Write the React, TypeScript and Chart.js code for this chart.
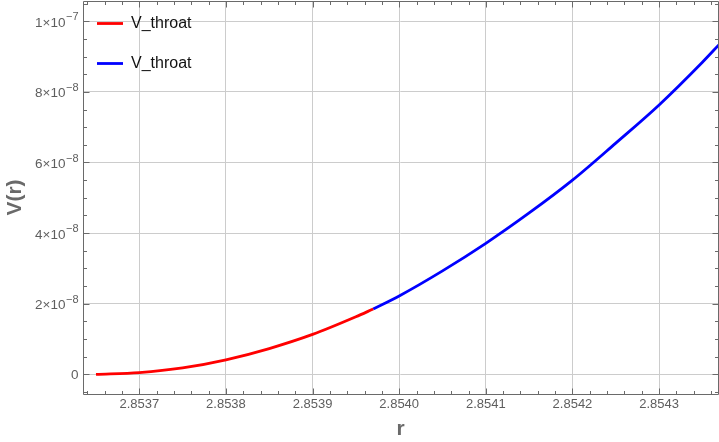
import React, { useEffect, useRef } from 'react';
import { Chart, registerables } from 'chart.js';

Chart.register(...registerables);

// ---- data (V values in units of 1e-8) ----
const redR = [2.85365, 2.8537, 2.85375, 2.8538, 2.85385, 2.8539, 2.85395, 2.85397];
const redV = [0.0, 0.05, 0.18, 0.41, 0.73, 1.13, 1.63, 1.85];
const blueR = [2.85397, 2.854, 2.85405, 2.8541, 2.85415, 2.8542, 2.85425, 2.8543, 2.85435, 2.85437];
const blueV = [1.85, 2.22, 2.93, 3.71, 4.57, 5.5, 6.55, 7.63, 8.84, 9.36];
const seriesLabels = ['V_throat', 'V_throat'];
const seriesColors = ['#ff0000', '#0000ff'];
const xTicks = [2.8537, 2.8538, 2.8539, 2.854, 2.8541, 2.8542, 2.8543];
const yTicks = [0, 2e-8, 4e-8, 6e-8, 8e-8, 1e-7];
const xTitle = 'r';
const yTitle = 'V(r)';
const Y_UNIT = 1e-8;

const X_MIN = 2.853635;
const X_MAX = 2.854368;
const Y_MIN = -0.558e-8;
const Y_MAX = 10.575e-8;
const X_MINOR = 0.00002;
const Y_MINOR = 0.5e-8;

const FONT = "'Liberation Sans', Arial, Helvetica, sans-serif";
const FRAME = '#6a6a6a';
const LABEL = '#5e5e5e';

// split a y tick value into mantissa text and exponent text
function sciParts(v: number): [string, string] {
  if (Math.abs(v) < 1e-15) return ['0', ''];
  const e = Math.floor(Math.log10(Math.abs(v)) + 1e-9);
  const m = Math.round((v / Math.pow(10, e)) * 10) / 10;
  return [`${m}\u00D710`, `${e < 0 ? '\u2212' : ''}${Math.abs(e)}`];
}

const framePlugin = {
  id: 'frameTicks',
  afterDatasetsDraw(chart: any) {
    const { ctx, chartArea, scales } = chart;
    const { left, right, top, bottom } = chartArea;
    const xs = scales.x;
    const ys = scales.y;
    const L = Math.floor(left) + 0.5;
    const R = Math.floor(right) + 0.5;
    const T = Math.floor(top) + 0.5;
    const B = Math.floor(bottom) + 0.5;
    ctx.save();
    ctx.strokeStyle = FRAME;
    ctx.lineWidth = 1;
    ctx.beginPath();
    ctx.rect(L, T, R - L, B - T);
    ctx.stroke();
    ctx.beginPath();
    const kx0 = Math.ceil(X_MIN / X_MINOR - 1e-6);
    const kx1 = Math.floor(X_MAX / X_MINOR + 1e-6);
    for (let k = kx0; k <= kx1; k++) {
      const v = k * X_MINOR;
      const major = xTicks.some((t) => Math.abs(t - v) < 1e-9);
      const len = major ? 6 : 3.5;
      const px = Math.round(xs.getPixelForValue(v)) + 0.5;
      ctx.moveTo(px, B);
      ctx.lineTo(px, B - len);
      ctx.moveTo(px, T);
      ctx.lineTo(px, T + len);
    }
    const ky0 = Math.ceil(Y_MIN / Y_MINOR - 1e-6);
    const ky1 = Math.floor(Y_MAX / Y_MINOR + 1e-6);
    for (let k = ky0; k <= ky1; k++) {
      const v = k * Y_MINOR;
      const major = yTicks.some((t) => Math.abs(t - v) < 1e-12);
      const len = major ? 6 : 3.5;
      const py = Math.round(ys.getPixelForValue(v)) + 0.5;
      ctx.moveTo(L, py);
      ctx.lineTo(L + len, py);
      ctx.moveTo(R, py);
      ctx.lineTo(R - len, py);
    }
    ctx.stroke();

    // y tick labels with real superscript exponents
    const xRight = L - 5;
    ctx.fillStyle = LABEL;
    ctx.textBaseline = 'alphabetic';
    ctx.textAlign = 'left';
    yTicks.forEach((v) => {
      const py = ys.getPixelForValue(v);
      const [base, exp] = sciParts(v);
      ctx.font = `13.5px ${FONT}`;
      const bw = ctx.measureText(base).width;
      ctx.font = `11px ${FONT}`;
      const ew = exp ? ctx.measureText(exp).width + 0.5 : 0;
      const x0 = xRight - bw - ew;
      ctx.font = `13.5px ${FONT}`;
      ctx.fillText(base, x0, py + (exp ? 5.5 : 4.8));
      if (exp) {
        ctx.font = `11px ${FONT}`;
        ctx.fillText(exp, x0 + bw + 0.5, py - 0.8);
      }
    });
    ctx.restore();
  },
};

const legendPlugin = {
  id: 'insideLegend',
  afterDraw(chart: any) {
    const { ctx } = chart;
    ctx.save();
    chart.data.datasets.forEach((ds: any, i: number) => {
      const yLine = 23.5 + i * 40;
      ctx.strokeStyle = ds.borderColor;
      ctx.lineWidth = 2.8;
      ctx.beginPath();
      ctx.moveTo(97, yLine);
      ctx.lineTo(123, yLine);
      ctx.stroke();
      ctx.fillStyle = '#111111';
      ctx.font = `16px ${FONT}`;
      ctx.textAlign = 'left';
      ctx.textBaseline = 'alphabetic';
      ctx.fillText(ds.label, 131, yLine + 4.5);
    });
    ctx.restore();
  },
};

export default function App() {
  const ref = useRef<HTMLCanvasElement | null>(null);
  useEffect(() => {
    document.body.style.margin = '0';
    if (!ref.current) return;
    const mk = (rs: number[], vs: number[]) => rs.map((r, i) => ({ x: r, y: vs[i] * Y_UNIT }));
    const lineStyle = {
      borderWidth: 2.8,
      pointRadius: 0,
      cubicInterpolationMode: 'monotone',
      clip: 0,
    };
    const chart = new Chart(ref.current, {
      type: 'line',
      data: {
        datasets: [
          {
            label: seriesLabels[0],
            data: mk(redR, redV),
            borderColor: seriesColors[0],
            backgroundColor: seriesColors[0],
            ...lineStyle,
          },
          {
            label: seriesLabels[1],
            data: mk(blueR, blueV),
            borderColor: seriesColors[1],
            backgroundColor: seriesColors[1],
            ...lineStyle,
          },
        ],
      },
      options: {
        responsive: false,
        animation: false,
        parsing: false,
        layout: { padding: { top: 1, right: 1, left: 0, bottom: 0 } },
        plugins: { legend: { display: false }, tooltip: { enabled: false } },
        scales: {
          x: {
            type: 'linear',
            min: X_MIN,
            max: X_MAX,
            afterFit: (s: any) => { s.height = 48; },
            afterBuildTicks: (s: any) => { s.ticks = xTicks.map((v) => ({ value: v })); },
            ticks: {
              callback: (v: any) => Number(v).toFixed(4),
              font: { family: FONT, size: 13 },
              color: LABEL,
              padding: 3,
              maxRotation: 0,
              autoSkip: false,
            },
            grid: { color: '#cccccc', drawTicks: false },
            border: { display: false },
            title: {
              display: true,
              text: xTitle,
              font: { family: FONT, size: 21, weight: 'bold' },
              color: '#6a6a6a',
              padding: { top: 0, bottom: 0 },
            },
          },
          y: {
            type: 'linear',
            min: Y_MIN,
            max: Y_MAX,
            afterFit: (s: any) => { s.width = 83; },
            afterBuildTicks: (s: any) => { s.ticks = yTicks.map((v) => ({ value: v })); },
            ticks: {
              display: false,
              callback: (v: any) => sciParts(Number(v)).join(''),
            },
            grid: { color: '#cccccc', drawTicks: false },
            border: { display: false },
            title: {
              display: true,
              text: yTitle,
              font: { family: FONT, size: 21, weight: 'bold' },
              color: '#6a6a6a',
              padding: { top: 2.5, bottom: 0 },
            },
          },
        },
      },
      plugins: [framePlugin, legendPlugin],
    } as any);
    return () => chart.destroy();
  }, []);
  return (
    <div style={{ width: 719, height: 442 }}>
      <canvas ref={ref} width={719} height={442} style={{ display: 'block' }} />
    </div>
  );
}
